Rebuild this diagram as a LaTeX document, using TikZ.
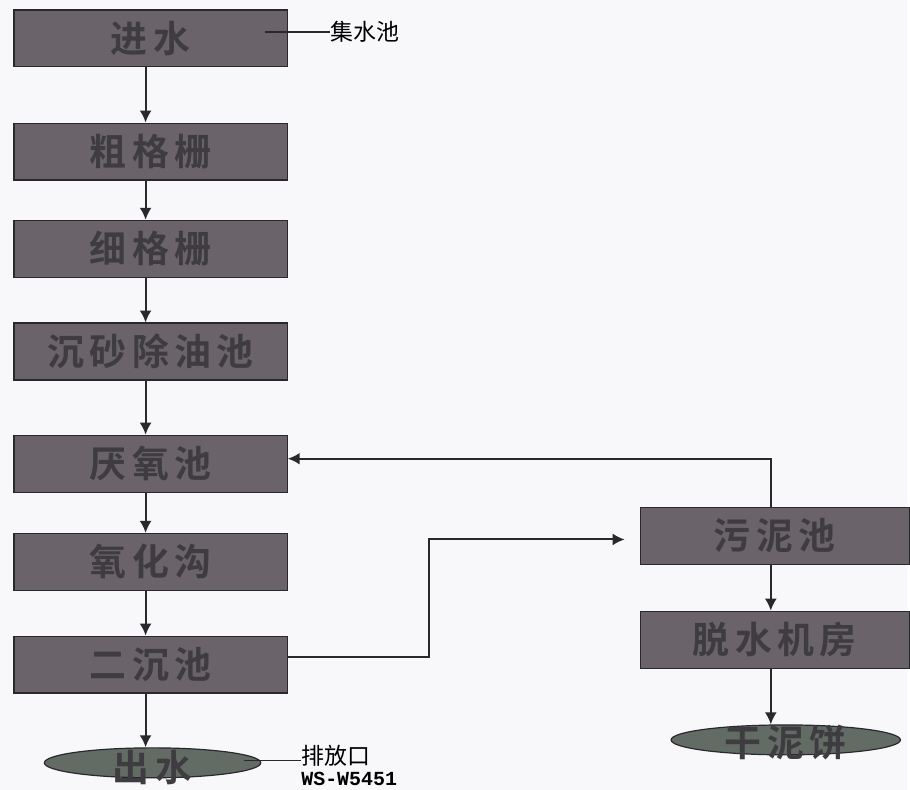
\documentclass[tikz,border=0pt]{standalone}
\usepackage{fontspec}
\usepackage{tikz}
\usetikzlibrary{arrows.meta}
\usetikzlibrary{shapes.geometric}
\setmainfont{Noto Sans CJK SC}
\newfontfamily\boxfont[LetterSpace=15,UprightFont=* Bold]{Noto Sans CJK SC}
\newfontfamily\codefont{Liberation Mono}
\definecolor{paper}{RGB}{248,248,250}
\definecolor{tankfill}{RGB}{106,99,106}
\definecolor{endfill}{RGB}{98,108,101}
\definecolor{tanktext}{RGB}{62,60,64}
\definecolor{pipe}{RGB}{40,40,45}

\begin{document}
\begin{tikzpicture}[x=1pt,y=-1pt,
		tank/.style={draw=pipe,line width=1.2pt,fill=tankfill,text=tanktext,minimum width=274pt,minimum height=57pt,inner sep=0pt,font=\boxfont\fontsize{37}{40}\selectfont},
		outlet/.style={ellipse,draw=pipe,line width=1.2pt,fill=endfill,text=tanktext,inner sep=0pt,font=\boxfont\fontsize{37}{40}\selectfont},
		flow/.style={draw=pipe,line width=2pt,-{Latex[length=12pt,width=12pt]}},
		tag/.style={font=\fontsize{23}{24}\selectfont,text=black,inner sep=0pt,align=left},
		tagline/.style={draw=pipe,line width=1.3pt}]
		\fill[paper] (0,0) rectangle (910,792);
		
		% left column
		\node[tank] (jinshui) at (151,38.5) {进水};
		\node[tank] (cugeshan) at (151,152) {粗格栅};
		\node[tank] (xigeshan) at (151,249.5) {细格栅};
		\node[tank] (chensha) at (151,352.5) {沉砂除油池};
		\node[tank] (yanyang) at (151,465) {厌氧池};
		\node[tank] (yanghua) at (151,563.5) {氧化沟};
		\node[tank] (erchen) at (151,666.5) {二沉池};
		\node[outlet,minimum width=217pt,minimum height=30pt] (chushui) at (153,765) {\raisebox{-19pt}[0pt][0pt]{出水}};
		
		% right column
		\node[tank,minimum width=270pt] (wuni) at (777,537.5) {污泥池};
		\node[tank,minimum width=270pt] (tuoshui) at (777,641.5) {脱水机房};
		\node[outlet,minimum width=230pt,minimum height=30pt] (ganni) at (788,742) {\raisebox{-17pt}[0pt][0pt]{干泥饼}};
		
		% labels
		\node[tag,anchor=west] (jishuichi) at (331,32) {集水池};
		\node[tag,anchor=west] (paifang) at (302,768) {排放口\\[-3pt]{\codefont\bfseries\fontsize{20}{22}\selectfont WS-W5451}};
		\draw[tagline] ([xshift=-23pt]jinshui.east |- jishuichi.west) -- (jishuichi.west);
		\draw[tagline] ([xshift=-17pt,yshift=2pt]chushui.east) -- ([yshift=2pt]chushui.east -| paifang.west);
		
		\draw[flow] ([xshift=-5pt]jinshui.south) -- ([xshift=-5pt]cugeshan.north);
		\draw[flow] ([xshift=-5pt]cugeshan.south) -- ([xshift=-5pt]xigeshan.north);
		\draw[flow] ([xshift=-5pt]xigeshan.south) -- ([xshift=-5pt]chensha.north);
		\draw[flow] ([xshift=-5pt]chensha.south) -- ([xshift=-5pt]yanyang.north);
		\draw[flow] ([xshift=-5pt]yanyang.south) -- ([xshift=-5pt]yanghua.north);
		\draw[flow] ([xshift=-5pt]yanghua.south) -- ([xshift=-5pt]erchen.north);
		\draw[flow] ([xshift=-5pt]erchen.south) -- ([xshift=-5pt]erchen.south |- chushui.north);
		
		\draw[flow] ([xshift=-4pt]wuni.south) -- ([xshift=-4pt]tuoshui.north);
		\draw[flow] ([xshift=-4pt]tuoshui.south) -- ([xshift=-4pt]tuoshui.south |- ganni.north);
		
		% sludge lines
		\draw[flow] ([xshift=-4pt]wuni.north) |- ([yshift=5pt]yanyang.east);
		\draw[flow] ([yshift=7.5pt]erchen.east) -- ++(142,0) |- ([xshift=-15pt,yshift=-3.5pt]wuni.west);
	\end{tikzpicture}
\end{document}
